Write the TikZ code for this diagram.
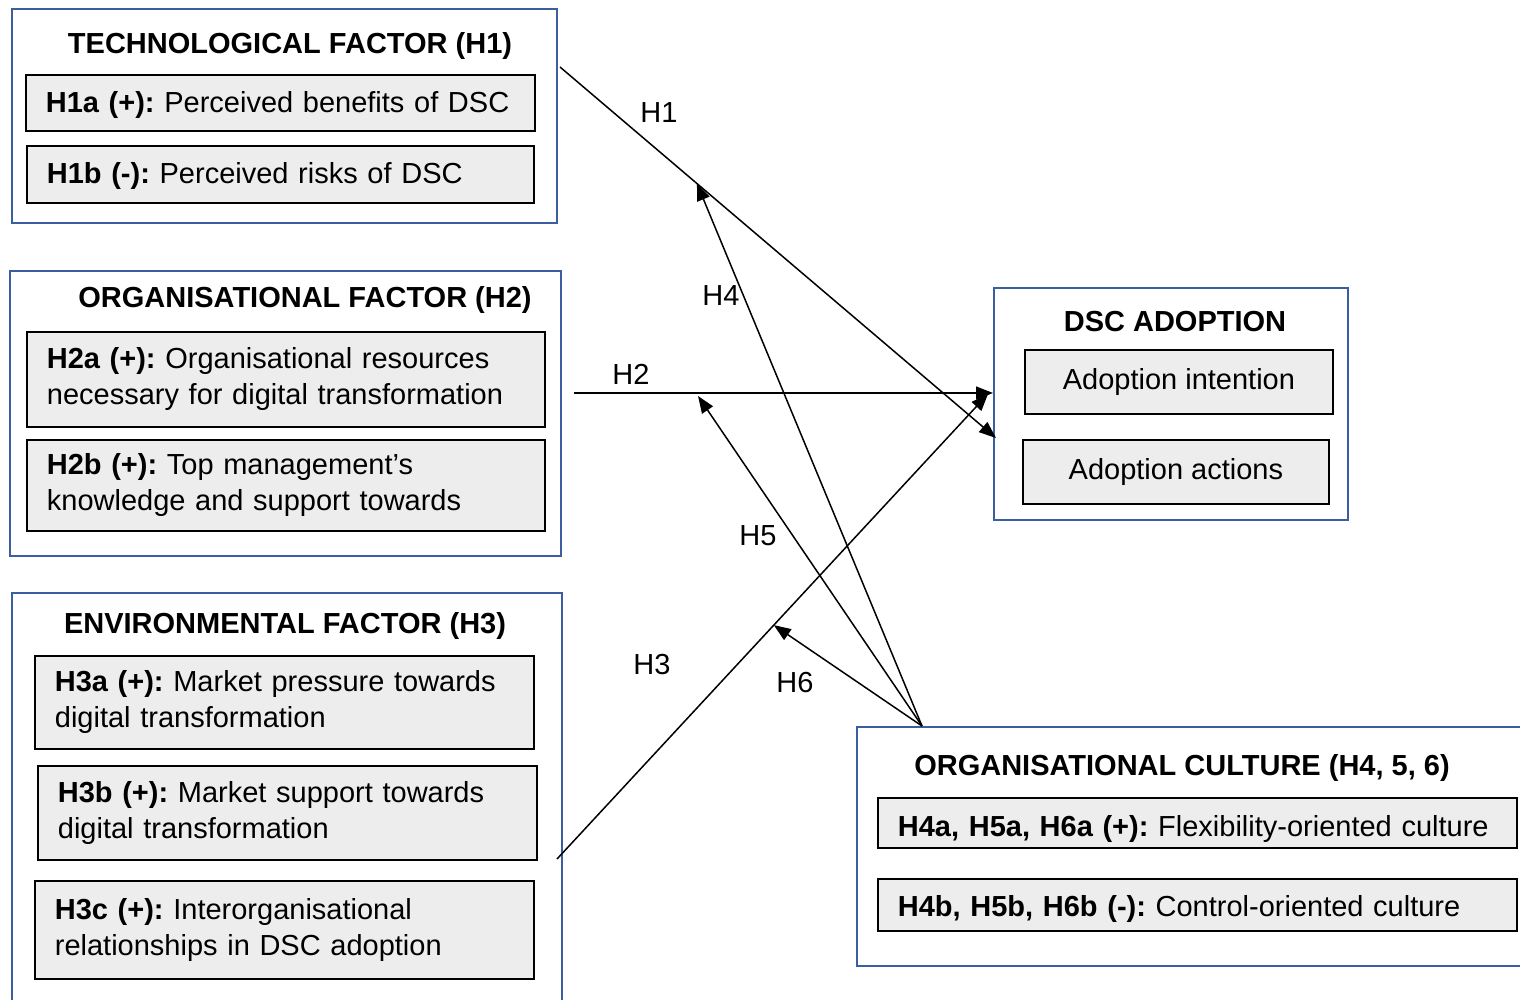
\documentclass[tikz,border=0pt]{standalone}
\usepackage{fontspec}
\setmainfont{Liberation Sans}
\usetikzlibrary{arrows.meta,calc}
\definecolor{boxblue}{RGB}{59,94,160}
\definecolor{itemgray}{RGB}{237,237,237}
\newcommand\fs{\fontsize{29}{36}\selectfont\frenchspacing}
\tikzset{
  outerbox/.style={draw=boxblue, line width=2.3pt, anchor=north west, inner sep=0pt},
  itembox/.style={draw=black, fill=itemgray, line width=1.8pt, anchor=north west,
    inner xsep=20pt, inner ysep=0pt, align=left, font=\fs},
  centbox/.style={draw=black, fill=itemgray, line width=1.8pt, anchor=north west,
    inner sep=0pt, align=center, font=\fs},
  boxtitle/.style={anchor=base, font=\fs\bfseries, inner sep=0pt},
  hlabel/.style={font=\fs, inner sep=0pt},
  conn/.style={draw=black, line width=1.5pt, -{Triangle[length=17pt,width=13pt]}},
}
\begin{document}
\begin{tikzpicture}[x=1pt,y=-1pt]
\useasboundingbox (0,0) rectangle (1520,999);
\clip (0,0) rectangle (1520,999);
% outer boxes
\node[outerbox, minimum width=545pt, minimum height=214pt] (tech) at (11,8) {};
\node[outerbox, minimum width=551pt, minimum height=285pt] (org) at (9,270) {};
\node[outerbox, minimum width=550pt, minimum height=425pt] (env) at (11,592) {};
\node[outerbox, minimum width=354pt, minimum height=232pt] (dsc) at (993,287) {};
\node[outerbox, minimum width=700pt, minimum height=239pt] (cult) at (856,726) {};
% titles
\node[boxtitle] (techT) at (290,53) {TECHNOLOGICAL FACTOR (H1)};
\node[boxtitle] (orgT) at (305,307) {ORGANISATIONAL FACTOR (H2)};
\node[boxtitle] (envT) at (285,633) {ENVIRONMENTAL FACTOR (H3)};
\node[boxtitle] (dscT) at (1175,331) {DSC ADOPTION};
\node[boxtitle] (cultT) at (1182,775) {ORGANISATIONAL CULTURE (H4, 5, 6)};
% items
\node[itembox, minimum width=509pt, minimum height=56pt, text width=469pt] (h1a) at (25,74)
  {\rule{0pt}{25pt}\textbf{H1a (+):} Perceived benefits of DSC};
\node[itembox, minimum width=507pt, minimum height=57pt, text width=467pt] (h1b) at (26,145)
  {\rule{0pt}{25pt}\textbf{H1b (-):} Perceived risks of DSC};
\node[itembox, minimum width=518pt, minimum height=95pt, text width=478pt] (h2a) at (26,331)
  {\textbf{H2a (+):} Organisational resources\\necessary for digital transformation};
\node[itembox, minimum width=518pt, minimum height=91pt, text width=478pt] (h2b) at (26,439)
  {\textbf{H2b (+):} Top management’s\\knowledge and support towards};
\node[itembox, minimum width=499pt, minimum height=93pt, text width=459pt] (h3a) at (34,655)
  {\textbf{H3a (+):} Market pressure towards\\digital transformation};
\node[itembox, minimum width=499pt, minimum height=94pt, text width=459pt] (h3b) at (37,765)
  {\textbf{H3b (+):} Market support towards\\digital transformation};
\node[itembox, minimum width=499pt, minimum height=98pt, text width=459pt] (h3c) at (34,880)
  {\textbf{H3c (+):} Interorganisational\\relationships in DSC adoption};
\node[centbox, minimum width=308pt, minimum height=64pt] (ai) at (1024,349) {Adoption intention};
\node[centbox, minimum width=306pt, minimum height=64pt] (aa) at (1022,439) {Adoption actions};
\node[itembox, minimum width=639pt, minimum height=50pt, text width=599pt] (h4a) at (877,797)
  {\rule{0pt}{33pt}\textbf{H4a, H5a, H6a (+):} Flexibility-oriented culture};
\node[itembox, minimum width=639pt, minimum height=52pt, text width=599pt] (h4b) at (877,878)
  {\rule{0pt}{29pt}\textbf{H4b, H5b, H6b (-):} Control-oriented culture};
% connector end points
\coordinate (s1) at (560,67);
\coordinate (e1) at (996,438);
\coordinate (s2) at (574,393);
\coordinate (e2) at (993,393);
\coordinate (s3) at (557,859);
\coordinate (e3) at (988,394);
\coordinate (c0) at (922,726);
\coordinate (e5) at (698,396);
% connectors
\draw[conn] (s1) -- coordinate[pos=0.314] (m1) (e1);
\draw[conn] (s2) -- (e2);
\draw[conn] (s3) -- coordinate[pos=0.503] (m3) (e3);
\draw[conn] (c0) -- (m1);
\draw[conn] (c0) -- (e5);
\draw[conn] (c0) -- (m3);
% labels
\node[hlabel] (l1) at (659,113) {H1};
\node[hlabel] (l2) at (631,374) {H2};
\node[hlabel] (l3) at (652,665) {H3};
\node[hlabel] (l4) at (721,296) {H4};
\node[hlabel] (l5) at (758,536) {H5};
\node[hlabel] (l6) at (795,683) {H6};
\end{tikzpicture}
\end{document}
